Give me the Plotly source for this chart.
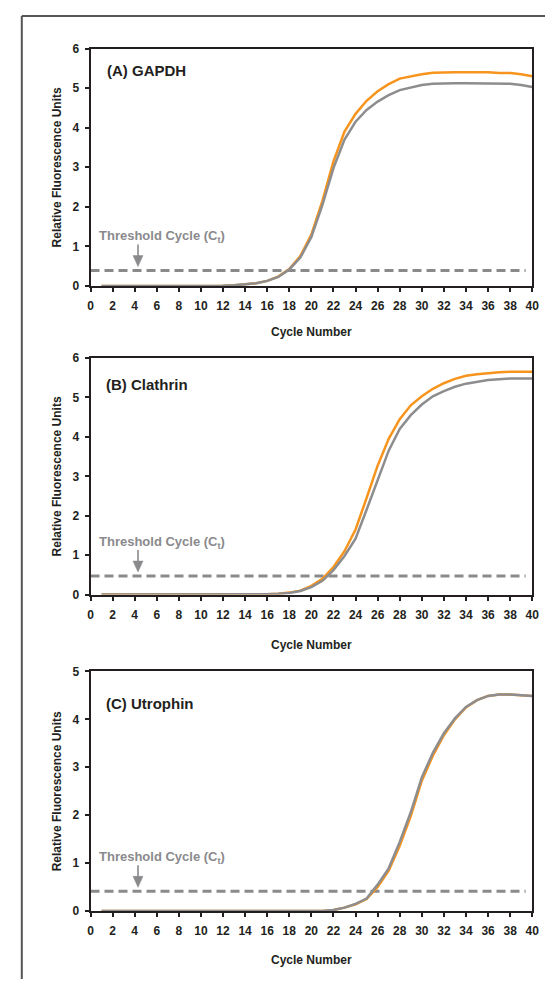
import plotly.graph_objects as go

cycles = list(range(1, 41))

gapdh_orange = [0]*11 + [0.01, 0.02, 0.04, 0.07, 0.13, 0.24, 0.43, 0.76, 1.30, 2.15,
                         3.15, 3.90, 4.35, 4.68, 4.92, 5.10, 5.24, 5.30, 5.35, 5.39,
                         5.40, 5.40, 5.40, 5.40, 5.40, 5.38, 5.38, 5.35, 5.30]
gapdh_gray = [0]*11 + [0.01, 0.02, 0.04, 0.07, 0.13, 0.23, 0.42, 0.72, 1.24, 2.05,
                       2.98, 3.70, 4.15, 4.45, 4.66, 4.82, 4.95, 5.02, 5.08, 5.11,
                       5.12, 5.12, 5.12, 5.12, 5.11, 5.11, 5.11, 5.08, 5.03]

clathrin_orange = [0]*15 + [0.01, 0.02, 0.05, 0.10, 0.22, 0.40, 0.70, 1.10, 1.65, 2.45,
                            3.27, 3.95, 4.45, 4.80, 5.03, 5.22, 5.36, 5.47, 5.55, 5.59,
                            5.62, 5.64, 5.65, 5.65, 5.65]
clathrin_gray = [0]*15 + [0.01, 0.02, 0.04, 0.09, 0.19, 0.35, 0.62, 0.98, 1.42, 2.15,
                          2.92, 3.65, 4.20, 4.55, 4.82, 5.03, 5.16, 5.27, 5.35, 5.40,
                          5.44, 5.46, 5.48, 5.48, 5.48]

utrophin_orange = [0]*20 + [0.0, 0.02, 0.07, 0.14, 0.25, 0.50, 0.84, 1.36, 1.98, 2.72,
                            3.24, 3.67, 4.00, 4.25, 4.40, 4.49, 4.52, 4.52, 4.51, 4.49]
utrophin_gray = [0]*20 + [0.0, 0.02, 0.07, 0.15, 0.26, 0.55, 0.89, 1.44, 2.06, 2.79,
                          3.30, 3.71, 4.02, 4.26, 4.40, 4.49, 4.52, 4.52, 4.51, 4.49]

panel_titles = ["(A) GAPDH", "(B) Clathrin", "(C) Utrophin"]
thresholds = [0.39, 0.47, 0.41]
y_max = [6, 6, 5]
threshold_x = [0, 39.4]
arrow_x = 4.3
x_ticks = list(range(0, 41, 2))

ORANGE = "#F7941D"
GRAY = "#8D8D8F"
DASH_GRAY = "#8A8A8C"
BLACK = "#231F20"
FONT = "Liberation Sans, Arial, sans-serif"

# figure fits inside the page's default 8px body margin
W, H = 544, 978
OFF = 8


def px(v):
    return (v - OFF) / W


def py(v):
    return 1 - (v - OFF) / H


x_dom = [px(89), px(539)]
y_doms = [(283, 42), (596, 356), (917, 674)]  # (bottom, top) in page px
label_y = [64, 383, 706]
label_x = [104, 103, 103]
xtitle_y = [330, 647, 967]

series = [(gapdh_orange, gapdh_gray), (clathrin_orange, clathrin_gray),
          (utrophin_orange, utrophin_gray)]

fig = go.Figure()
annotations = []
shapes = []

for i in range(3):
    n = "" if i == 0 else str(i + 1)
    xa, ya = "x" + n, "y" + n
    o, g = series[i]
    fig.add_trace(go.Scatter(x=threshold_x, y=[thresholds[i]] * 2, mode="lines",
                             line=dict(color=DASH_GRAY, width=3, dash="9px,5px"),
                             xaxis=xa, yaxis=ya, showlegend=False, hoverinfo="skip"))
    fig.add_trace(go.Scatter(x=cycles, y=o, mode="lines",
                             line=dict(color=ORANGE, width=2.5),
                             xaxis=xa, yaxis=ya, showlegend=False))
    fig.add_trace(go.Scatter(x=cycles, y=g, mode="lines",
                             line=dict(color=GRAY, width=2.5),
                             xaxis=xa, yaxis=ya, showlegend=False))
    bot, top = y_doms[i]
    axis_common = dict(showline=True, linecolor=BLACK, linewidth=2, mirror=True,
                       ticks="outside", ticklen=4, tickwidth=1.5, tickcolor=BLACK,
                       showgrid=False, zeroline=False,
                       tickfont=dict(family=FONT, size=12, color=BLACK, weight="bold"))
    fig.update_layout(**{
        ("xaxis" + n): dict(domain=x_dom, range=[0, 40], tickmode="array",
                            tickvals=x_ticks, anchor=ya, ticklabelstandoff=4,
                            **axis_common),
        ("yaxis" + n): dict(domain=[py(bot), py(top)], range=[0, y_max[i]],
                            dtick=1, anchor=xa, ticklabelstandoff=3, **axis_common),
    })
    # panel label
    annotations.append(dict(xref="paper", yref="paper", x=px(label_x[i]), y=py(label_y[i]),
                            xanchor="left", yanchor="middle", showarrow=False,
                            text="<b>" + panel_titles[i] + "</b>",
                            font=dict(family=FONT, size=15, color=BLACK)))
    # threshold text
    annotations.append(dict(xref=xa, yref=ya, x=0.6, y=thresholds[i], yshift=34,
                            xanchor="left", yanchor="middle", showarrow=False,
                            text="<b>Threshold Cycle (C<sub>t</sub>)</b>",
                            font=dict(family=FONT, size=13, color=DASH_GRAY)))
    # arrow (shaft + head) anchored at the threshold, sized in pixels
    shapes.append(dict(type="line", xref=xa, yref=ya, xsizemode="pixel", xanchor=arrow_x,
                       ysizemode="pixel", yanchor=thresholds[i],
                       x0=0, x1=0, y0=12, y1=26,
                       line=dict(color=DASH_GRAY, width=1.6)))
    shapes.append(dict(type="path", xref=xa, yref=ya, xsizemode="pixel", xanchor=arrow_x,
                       ysizemode="pixel", yanchor=thresholds[i],
                       path="M -5,15 L 5,15 L 0,4 Z",
                       fillcolor=DASH_GRAY, line=dict(color=DASH_GRAY, width=0.5)))
    # axis titles
    annotations.append(dict(xref="paper", yref="paper", x=px((89 + 539) / 2),
                            y=py(xtitle_y[i]), xanchor="center", yanchor="middle",
                            showarrow=False, text="<b>Cycle Number</b>",
                            font=dict(family=FONT, size=12, color=BLACK)))
    annotations.append(dict(xref="paper", yref="paper", x=px(55),
                            y=py((bot + top) / 2), xanchor="center", yanchor="middle",
                            showarrow=False, textangle=-90,
                            text="<b>Relative Fluorescence Units</b>",
                            font=dict(family=FONT, size=12, color=BLACK)))

# outer frame (top and left edges)
shapes.append(dict(type="line", xref="paper", yref="paper", x0=px(19), x1=1.0,
                   y0=py(9), y1=py(9), line=dict(color="#555555", width=2)))
shapes.append(dict(type="line", xref="paper", yref="paper", x0=px(19), x1=px(19),
                   y0=py(9), y1=0, line=dict(color="#555555", width=2)))

fig.update_layout(width=W, height=H, margin=dict(l=0, r=0, t=0, b=0),
                  paper_bgcolor="white", plot_bgcolor="white",
                  annotations=annotations, shapes=shapes)

fig.write_html("out.html")
